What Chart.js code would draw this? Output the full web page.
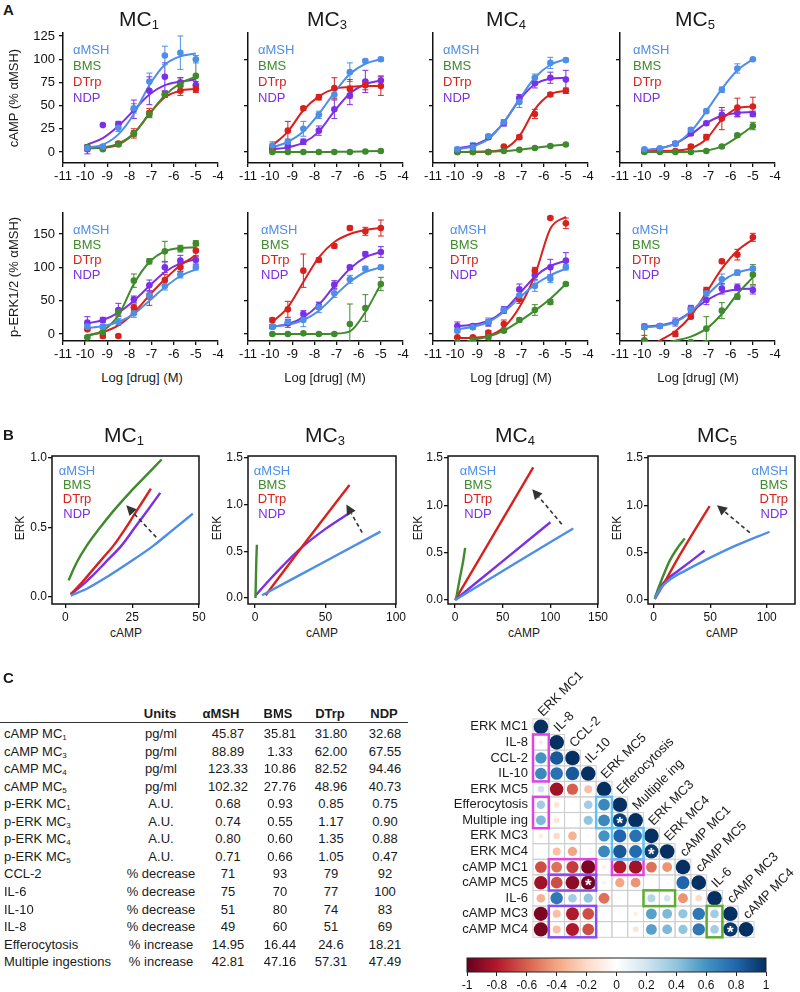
<!DOCTYPE html>
<html>
<head>
<meta charset="utf-8">
<title>MC receptor signalling</title>
<script src="https://cdn.jsdelivr.net/npm/chart.js@4.4.1/dist/chart.umd.min.js"></script>
<style>
  body { margin: 0; background: #fff; }
  #fig { position: relative; width: 800px; height: 992px; overflow: hidden; font-family: "Liberation Sans", Arial, Helvetica, sans-serif; color: #1a1a1a; }
  #fig canvas { position: absolute; }
  .t { position: absolute; white-space: nowrap; line-height: 1; }
  .t sub { font-size: 0.62em; line-height: 0; vertical-align: -0.3em; }
  .rule { position: absolute; border-top: 1px solid #333; height: 0; }
</style>
</head>
<body>
<div id="fig"></div>
<script>
// Values

const drugs = ["αMSH", "BMS", "DTrp", "NDP"]
const logConc = [-9.9, -9.2, -8.5, -7.8, -7.1, -6.4, -5.7, -5.0]
const logTicks = [-11, -10, -9, -8, -7, -6, -5, -4]
const campTicksFirst = [0, 25, 50, 75, 100, 125]
const campTicks = [0, 50, 100]
const erkTicks = [0, 50, 100, 150]

// panel A, one row per drug (αMSH, BMS, DTrp, NDP)
const campMC1Pts = [[4, 6, 26, 47, 76, 104, 107, 100], [5, 3, 8, 20, 41, 62, 72, 82], [4, 4, 9, 20, 42, 62, 66, 68], [3, 29, 30, 46, 66, 81, 75, 72]]
const campMC1Fit = [[5, 8, 19, 41, 72, 94, 103, 106], [4, 5, 9, 20, 41, 61, 74, 81], [4, 4.5, 8, 20, 41, 59, 66, 68], [8, 15, 28, 45, 62, 72, 76, 78]]
const campMC1Err = [[3, 2, 4, 5, 9, 10, 18, 4], [2, 1, 2, 3, 3, 3, 8, 17], [1, 1, 2, 5, 5, 3, 5, 4], [5, 0, 3, 10, 15, 15, 5, 4]]

const campMC3Pts = [[7, 11, 25, 40, 62, 86, 98, 100], [0, 0, 0, 0, 0, 0, 0.5, 1], [5, 23, 47, 59, 69, 68, 72, 71], [2, 6, 11, 23, 46, 61, 76, 77]]
const campMC3Fit = [[5, 11, 22, 41, 64, 84, 95, 100], [0, 0, 0, 0, 0.2, 0.4, 0.7, 1], [7, 22, 45, 60, 68, 70, 71, 71], [3, 5, 10, 22, 44, 63, 73, 77]]
const campMC3Err = [[4, 3, 8, 4, 5, 10, 2, 2], [0, 0, 0, 0, 0, 0, 0, 0], [2, 10, 2, 3, 11, 10, 5, 10], [2, 3, 3, 5, 10, 10, 12, 5]]

const campMC4Pts = [[3, 5, 17, 32, 54, 80, 96, 99], [0, 0, 0, 1, 2.5, 4.3, 6.5, 8], [0, 0, 0, 6, 16, 41, 62, 66], [2, 6, 16, 31, 58, 74, 80, 78]]
const campMC4Fit = [[3, 6, 14, 32, 57, 80, 94, 100], [0, 0.2, 0.5, 1, 2.5, 4.5, 6.5, 8], [0, 0, 0.5, 3, 17, 46, 62, 66], [4, 7, 15, 32, 56, 73, 79, 80]]
const campMC4Err = [[2, 5, 2, 3, 6, 4, 6, 2], [0, 0, 0, 0, 0, 0, 1, 1], [0, 0, 0, 1, 2, 5, 2, 3], [2, 3, 2, 3, 4, 5, 6, 10]]

const campMC5Pts = [[3, 4, 9, 24, 44, 67, 90, 100], [0, 0, 0, 0, 1, 6, 18, 28], [1, 1, 1, 6, 16, 36, 48, 49], [1, 3, 9, 20, 31, 40, 42, 41]]
const campMC5Fit = [[2, 4, 9, 22, 44, 68, 88, 100], [0, 0, 0, 0.3, 1.5, 6, 16, 28], [1, 1, 1.5, 4, 14, 35, 47, 49], [2, 4, 9, 19, 31, 39, 42, 43]]
const campMC5Err = [[1, 1, 1, 2, 2, 3, 5, 1], [0, 0, 0, 0, 0, 1, 2, 4], [0, 0, 0, 2, 3, 12, 10, 10], [2, 1, 2, 2, 2, 5, 4, 3]]

const erkMC1Pts = [[11, 11, 18, 31, 58, 72, 89, 100], [-5, 3, 33, 80, 109, 124, 128, 136], [7, -3, -3, 40, 58, 81, 100, 125], [17, 21, 36, 52, 73, 100, 110, 111]]
const erkMC1Fit = [[9, 12, 18, 30, 50, 70, 87, 97], [-3, 5, 28, 75, 108, 124, 129, 130], [-2, 3, 13, 32, 58, 82, 103, 118], [16, 21, 32, 50, 72, 93, 106, 112]]
const erkMC1Err = [[3, 3, 5, 6, 6, 6, 5, 4], [2, 5, 5, 10, 4, 15, 5, 4], [2, 3, 2, 5, 15, 8, 6, 8], [9, 4, 10, 5, 8, 8, 8, 6]]

const erkMC3Pts = [[11, 18, 21, 40, 61, 82, 98, 100], [0, 0, 1, 0, 0, 15, 39, 75], [21, 37, 95, 111, 132, 159, 154, 159], [11, 16, 30, 42, 74, 100, 120, 123]]
const erkMC3Fit = [[11, 14, 21, 35, 57, 78, 93, 100], [0, 0, 0, 0, 0.5, 4, 33, 75], [18, 40, 78, 115, 138, 150, 156, 159], [11, 15, 25, 44, 72, 98, 115, 123]]
const erkMC3Err = [[3, 4, 10, 8, 6, 6, 3, 3], [0, 0, 0, 0, 0, 30, 20, 10], [3, 12, 25, 3, 3, 3, 6, 12], [3, 6, 5, 5, 6, 3, 3, 8]]

const erkMC4Pts = [[5, 10, 18, 36, 58, 72, 83, 100], [-12, -9, -5, 5, 21, 36, 48, 75], [-5, -5, 2, 15, 52, 95, 174, 166], [12, 12, 17, 36, 67, 88, 100, 110]]
const erkMC4Fit = [[7, 11, 18, 33, 54, 74, 88, 98], [-16, -9, -4, 5, 19, 35, 53, 75], [-6, -5.5, -3, 10, 40, 88, 158, 176], [12, 14, 20, 35, 60, 86, 102, 110]]
const erkMC4Err = [[3, 3, 6, 4, 6, 8, 6, 4], [0, 0, 3, 2, 3, 8, 4, 2], [1, 1, 3, 6, 6, 5, 2, 8], [6, 3, 5, 5, 8, 6, 12, 12]]

const erkMC5Pts = [[10, 12, 18, 37, 61, 82, 92, 98], [-10, -15, -15, -12, 8, 35, 56, 89], [-10, -15, 0, 26, 66, 109, 119, 145], [11, 12, 18, 38, 51, 68, 70, 66]]
const erkMC5Fit = [[10, 12, 18, 33, 57, 79, 92, 98], [-20, -15, -10, -4, 8, 30, 60, 85], [-25, -10, 4, 27, 62, 98, 125, 142], [11, 13, 19, 33, 50, 62, 67, 68]]
const erkMC5Err = [[2, 2, 3, 4, 4, 8, 4, 3], [20, 0, 0, 0, 18, 12, 4, 15], [8, 0, 4, 3, 4, 3, 8, 6], [4, 3, 6, 5, 7, 8, 5, 6]]

// panel B, ERK vs cAMP curves as [cAMP, ERK] pairs, same drug order
const biasMC1 = [
  [[2, 0.01], [8, 0.06], [16, 0.15], [24, 0.25], [33, 0.37], [40, 0.48], [47.7, 0.6]],
  [[1.2, 0.12], [4, 0.24], [8, 0.37], [13, 0.5], [18, 0.62], [24, 0.75], [30, 0.87], [36, 0.99]],
  [[2, 0.02], [6, 0.1], [10, 0.19], [14, 0.28], [18, 0.37], [22, 0.48], [26, 0.6], [30, 0.72], [32, 0.78]],
  [[2, 0.02], [6, 0.08], [10, 0.15], [15, 0.25], [21, 0.37], [26, 0.5], [31, 0.63], [35.5, 0.75]],
]
const biasMC3 = [
  [[5, 0.03], [47, 0.37], [89, 0.71]],
  [[0.3, 0], [0.6, 0.2], [0.9, 0.4], [1.3, 0.57]],
  [[7.5, 0.03], [37, 0.62], [67, 1.21]],
  [[0.5, 0.03], [10, 0.19], [20, 0.35], [33, 0.54], [50, 0.74], [67, 0.91]],
]
const biasMC4 = [
  [[0, 0], [62, 0.38], [124, 0.755]],
  [[1, 0.01], [4, 0.18], [8.4, 0.41], [10.5, 0.55]],
  [[0, 0], [41, 0.7], [82, 1.4]],
  [[0, 0], [50, 0.41], [100, 0.82]],
]
const biasMC5 = [
  [[1, 0.01], [6, 0.12], [15, 0.22], [28, 0.31], [44, 0.41], [72, 0.57], [102.5, 0.72]],
  [[1, 0.02], [5, 0.15], [10, 0.3], [14, 0.41], [20, 0.53], [27.5, 0.65]],
  [[1, 0.01], [8, 0.15], [20, 0.41], [35, 0.71], [49.5, 0.99]],
  [[1, 0.01], [5, 0.12], [12, 0.22], [22, 0.31], [33, 0.41], [45, 0.52]],
]
// dashed arrows: from [cAMP, ERK] to [cAMP, ERK]
const biasArrows = [[34, 0.43, 22.8, 0.66], [76, 0.7, 64.8, 1.0], [112, 0.8, 81, 1.17], [85, 0.71, 56, 1.0]]
const biasXTicks = [[0, 25, 50], [0, 50, 100], [0, 50, 100, 150], [0, 50, 100]]
const biasYTicks = [[0, 0.5, 1], [0, 0.5, 1, 1.5], [0, 0.5, 1, 1.5], [0, 0.5, 1, 1.5]]

// panel C table
const tblLabels = ["cAMP MC<sub>1</sub>", "cAMP MC<sub>3</sub>", "cAMP MC<sub>4</sub>", "cAMP MC<sub>5</sub>", "p-ERK MC<sub>1</sub>", "p-ERK MC<sub>3</sub>", "p-ERK MC<sub>4</sub>", "p-ERK MC<sub>5</sub>", "CCL-2", "IL-6", "IL-10", "IL-8", "Efferocytosis", "Multiple ingestions"]
const tblUnits = ["pg/ml", "pg/ml", "pg/ml", "pg/ml", "A.U.", "A.U.", "A.U.", "A.U.", "% decrease", "% decrease", "% decrease", "% decrease", "% increase", "% increase"]
const tblAMSH = ["45.87", "88.89", "123.33", "102.32", "0.68", "0.74", "0.80", "0.71", "71", "75", "51", "49", "14.95", "42.81"]
const tblBMS = ["35.81", "1.33", "10.86", "27.76", "0.93", "0.55", "0.60", "0.66", "93", "70", "80", "60", "16.44", "47.16"]
const tblDTrp = ["31.80", "62.00", "82.52", "48.96", "0.85", "1.17", "1.35", "1.05", "79", "77", "74", "51", "24.6", "57.31"]
const tblNDP = ["32.68", "67.55", "94.46", "40.73", "0.75", "0.90", "0.88", "0.47", "92", "100", "83", "69", "18.21", "47.49"]

// panel C correlation matrix (lower triangle, row by row)
const corrLabels = ["ERK MC1", "IL-8", "CCL-2", "IL-10", "ERK MC5", "Efferocytosis", "Multiple ing", "ERK MC3", "ERK MC4", "cAMP MC1", "cAMP MC5", "IL-6", "cAMP MC3", "cAMP MC4"]
const corrRows = [
  [1],
  [0.1, 1],
  [0.6, 0.85, 1],
  [0.65, 0.75, 0.85, 1],
  [0.2, -0.85, -0.6, -0.3, 1],
  [0.35, -0.15, 0.03, 0.35, 0.65, 1],
  [0.45, -0.15, 0.03, 0.4, 0.65, 0.95, 1],
  [-0.1, -0.2, -0.35, 0.05, 0.6, 0.8, 0.75, 1],
  [-0.03, -0.3, -0.4, 0, 0.65, 0.85, 0.78, 0.95, 1],
  [-0.65, -0.55, -0.7, -0.95, -0.1, -0.8, -0.85, -0.55, -0.45, 1],
  [-0.85, -0.65, -0.9, -0.97, 0.08, -0.4, -0.45, 0, 0.04, 0.8, 1],
  [-0.35, 0.72, 0.35, 0.4, -0.55, 0.03, 0, 0.3, 0.2, -0.45, -0.2, 1],
  [-0.95, -0.3, -0.8, -0.65, 0.03, 0.03, -0.1, 0.55, 0.45, 0.4, 0.72, 0.35, 1],
  [-0.95, -0.3, -0.8, -0.65, 0.03, 0, -0.15, 0.55, 0.45, 0.4, 0.72, 0.35, 0.97, 1],
]
const corrStars = [[6, 5], [8, 7], [10, 3], [13, 12]]
const colorbarTicks = [-1, -0.8, -0.6, -0.4, -0.2, 0, 0.2, 0.4, 0.6, 0.8, 1]

// ---- styles ----
const drugColors = ["#4d8fe8", "#3f8a2c", "#d8211d", "#7b2fe6"]
const rdbu = ["#67001f", "#b2182b", "#d6604d", "#f4a582", "#fddbc7", "#ffffff", "#d1e5f0", "#92c5de", "#4393c3", "#2166ac", "#053061"]
// [col0, row0, col1, row1, colour]
const corrBoxes = [
  [0, 1, 0, 3, "#e044e6"], [0, 5, 0, 6, "#e044e6"], [1, 9, 3, 9, "#e044e6"], [5, 9, 6, 9, "#e044e6"],
  [4, 5, 4, 6, "#62c2f0"], [5, 7, 6, 8, "#62c2f0"],
  [1, 10, 3, 10, "#8a4cf0"], [1, 12, 3, 13, "#8a4cf0"],
  [7, 11, 8, 11, "#5dae2e"], [11, 12, 11, 13, "#5dae2e"],
]

Chart.defaults.font.family = '"Liberation Sans", Arial, Helvetica, sans-serif'
Chart.defaults.font.size = 13
Chart.defaults.color = "#111"

const fig = document.getElementById("fig")

function text(html, x, y, opts = {}) {
  const el = document.createElement("div")
  el.className = "t"
  el.innerHTML = html
  el.style.left = x + "px"
  el.style.top = y + "px"
  el.style.fontSize = (opts.size || 13) + "px"
  if (opts.bold) el.style.fontWeight = "bold"
  if (opts.color) el.style.color = opts.color
  const ax = { left: "0", center: "-50%", right: "-100%" }[opts.align || "left"]
  el.style.transform = `translate(${ax}, -50%)` + (opts.rotate ? ` rotate(${opts.rotate}deg)` : "")
  fig.appendChild(el)
  return el
}

function addCanvas(left, top, width, height) {
  const cv = document.createElement("canvas")
  cv.width = width
  cv.height = height
  cv.style.left = left + "px"
  cv.style.top = top + "px"
  cv.style.width = width + "px"
  cv.style.height = height + "px"
  fig.appendChild(cv)
  return cv
}

function hexRgb(h) {
  return [1, 3, 5].map((i) => parseInt(h.slice(i, i + 2), 16))
}

function corrColor(v) {
  const t = ((v + 1) / 2) * 10
  const i = Math.min(9, Math.floor(t))
  const f = t - i
  const a = hexRgb(rdbu[i])
  const b = hexRgb(rdbu[i + 1])
  return `rgb(${a.map((c, k) => Math.round(c + (b[k] - c) * f)).join(",")})`
}

function setTicks(values) {
  return (scale) => {
    scale.ticks = values.map((v) => ({ value: v }))
  }
}

const axisLines = {
  grid: { display: true, drawOnChartArea: false, drawTicks: true, tickLength: 4, color: "#111", lineWidth: 1.3 },
  border: { display: true, color: "#111", width: 1.5 },
}

// vertical error bars on the point datasets
const errorBars = {
  id: "errorBars",
  beforeDatasetsDraw(chart) {
    const { ctx, chartArea: a, scales: { x, y } } = chart
    ctx.save()
    ctx.beginPath()
    ctx.rect(a.left, a.top - 10, a.width + 10, a.height + 10)
    ctx.clip()
    chart.data.datasets.forEach((ds) => {
      if (!ds.errs) return
      ctx.strokeStyle = ds.backgroundColor
      ctx.lineWidth = 1
      ds.data.forEach((p, i) => {
        const e = ds.errs[i]
        if (!e) return
        const px = x.getPixelForValue(p.x)
        const y0 = y.getPixelForValue(p.y - e)
        const y1 = y.getPixelForValue(p.y + e)
        ctx.beginPath()
        ctx.moveTo(px, y0)
        ctx.lineTo(px, y1)
        ctx.moveTo(px - 3, y0)
        ctx.lineTo(px + 3, y0)
        ctx.moveTo(px - 3, y1)
        ctx.lineTo(px + 3, y1)
        ctx.stroke()
      })
    })
    ctx.restore()
  },
}

// ---- panel A: concentration-response curves ----
const doseLeft = [63, 248, 433, 620]
const doseRowBox = [
  { top: 33, bottom: 163, min: -11.85, max: 128.2 },
  { top: 213, bottom: 341, min: -10.5, max: 181.5 },
]

function makeDose(col, row, pts, fit, err, yTicks) {
  const W = 52, PT = 12, PR = 14, HX = 24, PW = 155
  const box = doseRowBox[row]
  const cv = addCanvas(doseLeft[col] - W, box.top - PT, W + PW + PR, PT + box.bottom - box.top + HX)
  const datasets = []
  drugs.forEach((d, k) => {
    datasets.push({
      label: d,
      data: logConc.map((x, i) => ({ x, y: pts[k][i] })),
      backgroundColor: drugColors[k],
      borderWidth: 0,
      pointRadius: 3.3,
      errs: err[k],
      order: 0,
    })
    datasets.push({
      label: d + " fit",
      data: logConc.map((x, i) => ({ x, y: fit[k][i] })),
      showLine: true,
      borderColor: drugColors[k],
      borderWidth: 2,
      pointRadius: 0,
      cubicInterpolationMode: "monotone",
      order: 1,
    })
  })
  new Chart(cv, {
    type: "scatter",
    data: { datasets },
    options: {
      animation: false,
      responsive: false,
      devicePixelRatio: 1,
      events: [],
      layout: { padding: { top: PT, right: PR, left: 0, bottom: 0 } },
      plugins: { legend: { display: false }, tooltip: { enabled: false } },
      scales: {
        x: {
          type: "linear",
          min: -11,
          max: -4,
          afterBuildTicks: setTicks(logTicks),
          afterFit: (s) => { s.height = HX },
          ticks: { padding: 2, maxRotation: 0, autoSkip: false },
          ...axisLines,
        },
        y: {
          type: "linear",
          min: box.min,
          max: box.max,
          afterBuildTicks: setTicks(yTicks),
          afterFit: (s) => { s.width = W },
          ticks: { display: col === 0, padding: 4, autoSkip: false },
          ...axisLines,
        },
      },
    },
    plugins: [errorBars],
  })
}

makeDose(0, 0, campMC1Pts, campMC1Fit, campMC1Err, campTicksFirst)
makeDose(1, 0, campMC3Pts, campMC3Fit, campMC3Err, campTicks)
makeDose(2, 0, campMC4Pts, campMC4Fit, campMC4Err, campTicks)
makeDose(3, 0, campMC5Pts, campMC5Fit, campMC5Err, campTicks)
makeDose(0, 1, erkMC1Pts, erkMC1Fit, erkMC1Err, erkTicks)
makeDose(1, 1, erkMC3Pts, erkMC3Fit, erkMC3Err, erkTicks)
makeDose(2, 1, erkMC4Pts, erkMC4Fit, erkMC4Err, erkTicks)
makeDose(3, 1, erkMC5Pts, erkMC5Fit, erkMC5Err, erkTicks)

text("A", 3, 9, { size: 15, bold: true })
const receptors = ["1", "3", "4", "5"]
const doseTitleX = [139, 327, 506, 695]
receptors.forEach((r, i) => text(`MC<sub>${r}</sub>`, doseTitleX[i], 18, { size: 21, align: "center" }))
text("cAMP (% αMSH)", 13, 98, { align: "center", rotate: -90 })
text("p-ERK1/2 (% αMSH)", 13, 277, { align: "center", rotate: -90 })
const doseXTitleX = [142, 325, 511, 698]
doseXTitleX.forEach((x) => text("Log [drug] (M)", x, 377, { align: "center" }))
const doseLegendX = [[73, 258, 443, 633], [73, 261, 450, 632]]
const doseLegendY = [[49, 65, 81, 97], [229, 244, 259, 274]]
doseLegendX.forEach((xs, r) => xs.forEach((x) => drugs.forEach((d, k) => text(d, x, doseLegendY[r][k], { color: drugColors[k] }))))

// ---- panel B: ERK vs cAMP ----
const frame = {
  id: "frame",
  afterDatasetsDraw(chart, args, opts) {
    const { ctx, chartArea: a, scales: { x, y } } = chart
    ctx.save()
    ctx.strokeStyle = "#111"
    ctx.lineWidth = 1.5
    ctx.strokeRect(a.left, a.top, a.width, a.height)
    const arr = opts.arrow
    if (arr) {
      const x0 = x.getPixelForValue(arr[0]), y0 = y.getPixelForValue(arr[1])
      const x1 = x.getPixelForValue(arr[2]), y1 = y.getPixelForValue(arr[3])
      const ang = Math.atan2(y1 - y0, x1 - x0)
      const head = 10
      const bx = x1 - head * Math.cos(ang), by = y1 - head * Math.sin(ang)
      ctx.strokeStyle = "#333"
      ctx.fillStyle = "#333"
      ctx.lineWidth = 1.6
      ctx.setLineDash([4, 3])
      ctx.beginPath()
      ctx.moveTo(x0, y0)
      ctx.lineTo(bx, by)
      ctx.stroke()
      ctx.setLineDash([])
      ctx.beginPath()
      ctx.moveTo(x1, y1)
      ctx.lineTo(bx + 5 * Math.sin(ang), by - 5 * Math.cos(ang))
      ctx.lineTo(bx - 5 * Math.sin(ang), by + 5 * Math.cos(ang))
      ctx.closePath()
      ctx.fill()
    }
    ctx.restore()
  },
}

const biasBox = [[52, 199], [248, 396], [448, 598], [648, 795]]
const biasTop = 456, biasBottom = 604
const biasXRange = [[-5, 50], [-5, 100], [-7.5, 150], [-5, 125]]
const biasYRange = [[-0.05, 1.015], [-0.064, 1.52], [-0.043, 1.52], [-0.043, 1.52]]

function makeBias(i, curves) {
  const W = 34, PT = 10, PR = 12, HX = 20
  const [l, r] = biasBox[i]
  const cv = addCanvas(l - W, biasTop - PT, W + r - l + PR, PT + biasBottom - biasTop + HX)
  const datasets = curves.map((c, k) => ({
    label: drugs[k],
    data: c.map((p) => ({ x: p[0], y: p[1] })),
    showLine: true,
    borderColor: drugColors[k],
    borderWidth: 2.4,
    pointRadius: 0,
    cubicInterpolationMode: "monotone",
  }))
  new Chart(cv, {
    type: "scatter",
    data: { datasets },
    options: {
      animation: false,
      responsive: false,
      devicePixelRatio: 1,
      events: [],
      layout: { padding: { top: PT, right: PR, left: 0, bottom: 0 } },
      plugins: { legend: { display: false }, tooltip: { enabled: false }, frame: { arrow: biasArrows[i] } },
      scales: {
        x: {
          type: "linear",
          min: biasXRange[i][0],
          max: biasXRange[i][1],
          afterBuildTicks: setTicks(biasXTicks[i]),
          afterFit: (s) => { s.height = HX },
          ticks: { padding: 2, maxRotation: 0, autoSkip: false, font: { size: 12 } },
          grid: axisLines.grid,
          border: { display: false },
        },
        y: {
          type: "linear",
          min: biasYRange[i][0],
          max: biasYRange[i][1],
          afterBuildTicks: setTicks(biasYTicks[i]),
          afterFit: (s) => { s.width = W },
          ticks: { padding: 1, autoSkip: false, font: { size: 12 }, callback: (v) => v.toFixed(1) },
          grid: axisLines.grid,
          border: { display: false },
        },
      },
    },
    plugins: [frame],
  })
}

makeBias(0, biasMC1)
makeBias(1, biasMC3)
makeBias(2, biasMC4)
makeBias(3, biasMC5)

text("B", 3, 434, { size: 15, bold: true })
const biasTitleX = [124, 325, 515, 717]
receptors.forEach((r, i) => text(`MC<sub>${r}</sub>`, biasTitleX[i], 434, { size: 21, align: "center" }))
const biasErkX = [20, 217, 418, 617]
biasErkX.forEach((x) => text("ERK", x, 528, { size: 12, align: "center", rotate: -90 }))
const biasCampX = [126, 322, 524, 722]
biasCampX.forEach((x) => text("cAMP", x, 633, { size: 12, align: "center" }))
const biasLegendX = [77, 272, 478, 788]
const biasLegendAlign = ["center", "center", "center", "right"]
const biasLegendY = [470, 484, 498, 513]
biasLegendX.forEach((x, i) => drugs.forEach((d, k) => text(d, x, biasLegendY[k], { color: drugColors[k], align: biasLegendAlign[i] })))

// ---- panel C: table ----
text("C", 3, 677, { size: 15, bold: true })
const tblHeadX = [160, 221, 278, 330, 384]
;["Units", "αMSH", "BMS", "DTrp", "NDP"].forEach((h, i) => text(h, tblHeadX[i], 713, { bold: true, align: "center" }))
const rule = document.createElement("div")
rule.className = "rule"
rule.style.left = "0px"
rule.style.top = "722px"
rule.style.width = "408px"
fig.appendChild(rule)
const tblColX = [228, 280, 331, 385]
const tblCols = [tblAMSH, tblBMS, tblDTrp, tblNDP]
tblLabels.forEach((lab, r) => {
  const y = 733 + r * 17.55
  text(lab, 4, y)
  text(tblUnits[r], 161, y, { align: "center" })
  tblCols.forEach((col, c) => text(col[r], tblColX[c], y, { align: "center" }))
})

// ---- panel C: correlation matrix ----
const corrPoints = []
corrRows.forEach((row, i) => row.forEach((v, j) => corrPoints.push({ x: j, y: i, r: 7.3 * Math.sqrt(Math.abs(v)), v })))

const corrDecor = {
  id: "corrDecor",
  beforeDatasetsDraw(chart) {
    const { ctx, scales: { x, y } } = chart
    const cw = x.getPixelForValue(1) - x.getPixelForValue(0)
    ctx.save()
    ctx.strokeStyle = "#cfcfcf"
    ctx.lineWidth = 1
    corrRows.forEach((row, i) => row.forEach((v, j) => {
      ctx.strokeRect(x.getPixelForValue(j) - cw / 2, y.getPixelForValue(i) - cw / 2, cw, cw)
    }))
    ctx.restore()
  },
  afterDatasetsDraw(chart) {
    const { ctx, scales: { x, y } } = chart
    const cw = x.getPixelForValue(1) - x.getPixelForValue(0)
    ctx.save()
    ctx.lineWidth = 2.5
    corrBoxes.forEach(([c0, r0, c1, r1, color]) => {
      ctx.strokeStyle = color
      const x0 = x.getPixelForValue(c0) - cw / 2, y0 = y.getPixelForValue(r0) - cw / 2
      const x1 = x.getPixelForValue(c1) + cw / 2, y1 = y.getPixelForValue(r1) + cw / 2
      ctx.strokeRect(x0, y0, x1 - x0, y1 - y0)
    })
    ctx.fillStyle = "#fff"
    ctx.font = 'bold 17px "Liberation Sans", Arial, sans-serif'
    ctx.textAlign = "center"
    ctx.textBaseline = "middle"
    corrStars.forEach(([r, c]) => ctx.fillText("*", x.getPixelForValue(c), y.getPixelForValue(r) + 4))
    ctx.fillStyle = "#1a1a1a"
    ctx.font = '13px "Liberation Sans", Arial, sans-serif'
    ctx.textAlign = "left"
    ctx.textBaseline = "alphabetic"
    corrLabels.forEach((lab, j) => {
      ctx.save()
      ctx.translate(x.getPixelForValue(j) + 2, y.getPixelForValue(j) - cw / 2 - 2)
      ctx.rotate(-Math.PI / 4)
      ctx.fillText(lab, 0, 0)
      ctx.restore()
    })
    ctx.restore()
  },
}

{
  const left = 420, top = 655, W = 113, PT = 64, PR = 46, PB = 10
  const cv = addCanvas(left, top, 380, 295)
  new Chart(cv, {
    type: "bubble",
    data: {
      datasets: [{
        data: corrPoints,
        backgroundColor: (ctx) => corrColor(ctx.raw ? ctx.raw.v : 0),
        borderWidth: 0,
      }],
    },
    options: {
      animation: false,
      responsive: false,
      devicePixelRatio: 1,
      events: [],
      layout: { padding: { top: PT, right: PR, left: 0, bottom: PB } },
      plugins: { legend: { display: false }, tooltip: { enabled: false } },
      scales: {
        x: { type: "linear", min: -0.5, max: 13.5, display: false },
        y: {
          type: "linear",
          min: -0.5,
          max: 13.5,
          reverse: true,
          afterBuildTicks: setTicks(corrLabels.map((l, i) => i)),
          afterFit: (s) => { s.width = W },
          ticks: { padding: 5, autoSkip: false, color: "#1a1a1a", callback: (v) => corrLabels[v] },
          grid: { display: false, drawTicks: false },
          border: { display: false },
        },
      },
    },
    plugins: [corrDecor],
  })
}

// colour bar
const colorbarFill = {
  id: "colorbarFill",
  beforeDatasetsDraw(chart) {
    const { ctx, chartArea: a } = chart
    const g = ctx.createLinearGradient(a.left, 0, a.right, 0)
    rdbu.forEach((c, i) => g.addColorStop(i / (rdbu.length - 1), c))
    ctx.save()
    ctx.fillStyle = g
    ctx.fillRect(a.left, a.top, a.width, a.height)
    ctx.strokeStyle = "#222"
    ctx.lineWidth = 1
    ctx.strokeRect(a.left, a.top, a.width, a.height)
    ctx.restore()
  },
}

{
  const cv = addCanvas(440, 950, 350, 42)
  new Chart(cv, {
    type: "scatter",
    data: { datasets: [] },
    options: {
      animation: false,
      responsive: false,
      devicePixelRatio: 1,
      events: [],
      layout: { padding: { top: 8, right: 24, left: 27, bottom: 0 } },
      plugins: { legend: { display: false }, tooltip: { enabled: false } },
      scales: {
        x: {
          type: "linear",
          min: -1,
          max: 1,
          afterBuildTicks: setTicks(colorbarTicks),
          afterFit: (s) => { s.height = 20 },
          ticks: { padding: 2, maxRotation: 0, autoSkip: false, font: { size: 12 }, callback: (v) => String(Math.round(v * 10) / 10) },
          grid: { display: true, drawOnChartArea: false, tickLength: 4, color: "#222", lineWidth: 1 },
          border: { display: false },
        },
        y: { type: "linear", min: 0, max: 1, display: false },
      },
    },
    plugins: [colorbarFill],
  })
}
</script>
</body>
</html>
